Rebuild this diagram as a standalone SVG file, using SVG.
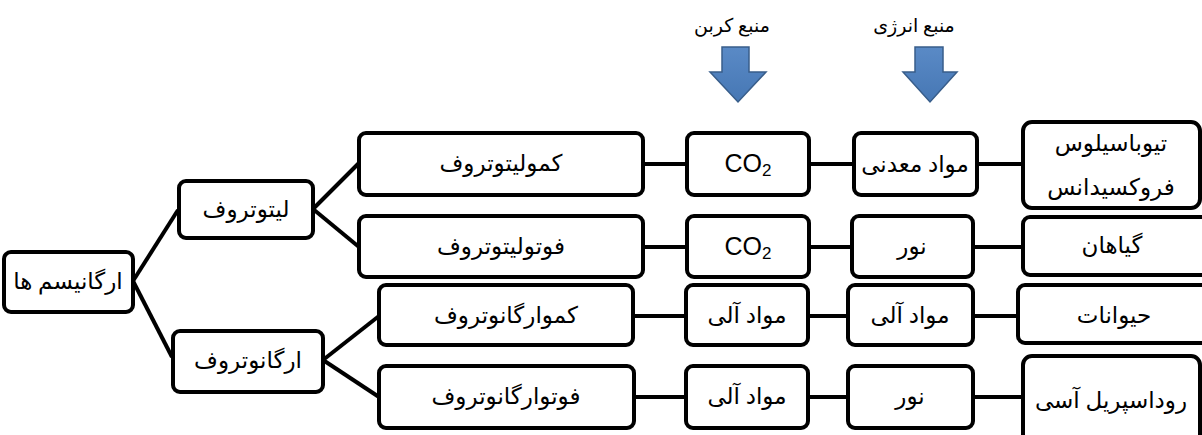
<svg xmlns="http://www.w3.org/2000/svg" width="1202" height="435" viewBox="0 0 1202 435">
<style>
.box{fill:#fff;stroke:#000;stroke-width:4}
.con line{stroke:#000;stroke-width:4}
.t{font-family:"Liberation Serif","DejaVu Sans",serif;font-size:23px;fill:#000;text-anchor:middle;dominant-baseline:central}
.co{font-family:"Liberation Sans","Open Sans",sans-serif;font-size:25px;fill:#000;text-anchor:middle;dominant-baseline:central}
.lbl{font-family:"Liberation Serif","DejaVu Sans",serif;font-size:19px;fill:#000;text-anchor:middle}
.arr{fill:#4f81bd;stroke:#385d8a;stroke-width:1.5}
</style>
<defs>
<linearGradient id="ag" x1="0" y1="0" x2="0" y2="1">
<stop offset="0" stop-color="#5a8ac6"/><stop offset="1" stop-color="#4677b4"/>
</linearGradient>
</defs>
<rect width="1202" height="435" fill="#fff"/>
<g id="connectors" class="con">
<line x1="133" y1="281" x2="178" y2="210"/>
<line x1="133" y1="281" x2="172" y2="357"/>
<line x1="313" y1="209" x2="359" y2="163"/>
<line x1="313" y1="209" x2="359" y2="247"/>
<line x1="323" y1="360" x2="379" y2="316"/>
<line x1="323" y1="360" x2="379" y2="397"/>
<line x1="643" y1="164" x2="687" y2="164"/>
<line x1="643" y1="247" x2="687" y2="247"/>
<line x1="633" y1="316" x2="686" y2="316"/>
<line x1="633" y1="397" x2="686" y2="397"/>
<line x1="809" y1="164" x2="854" y2="164"/>
<line x1="809" y1="247" x2="852" y2="247"/>
<line x1="808" y1="316" x2="848" y2="316"/>
<line x1="808" y1="397" x2="848" y2="397"/>
<line x1="977" y1="164" x2="1023" y2="164"/>
<line x1="973" y1="247" x2="1023" y2="247"/>
<line x1="973" y1="316" x2="1018" y2="316"/>
<line x1="973" y1="397" x2="1023" y2="397"/>
</g>
<g id="n-organisms"><rect class="box" x="4" y="252" width="129" height="60" rx="7"/><text class="t" x="68" y="281">ارگانیسم ها</text></g>
<g id="n-litho"><rect class="box" x="179" y="181" width="134" height="57" rx="7"/><text class="t" x="246" y="209">لیتوتروف</text></g>
<g id="n-organo"><rect class="box" x="173" y="331" width="150" height="61" rx="7"/><text class="t" x="248" y="360">ارگانوتروف</text></g>
<g id="n-chemolitho"><rect class="box" x="359" y="133" width="284" height="62" rx="7"/><text class="t" x="501" y="163">کمولیتوتروف</text></g>
<g id="n-photolitho"><rect class="box" x="359" y="216" width="284" height="61" rx="7"/><text class="t" x="501" y="246">فوتولیتوتروف</text></g>
<g id="n-chemoorgano"><rect class="box" x="379" y="285" width="254" height="60" rx="7"/><text class="t" x="506" y="315">کموارگانوتروف</text></g>
<g id="n-photoorgano"><rect class="box" x="379" y="366" width="255" height="62" rx="7"/><text class="t" x="506" y="396">فوتوارگانوتروف</text></g>
<g id="n-co2a"><rect class="box" x="687" y="133" width="122" height="62" rx="7"/><text class="co" x="748" y="163">CO<tspan font-size="17" dy="7">2</tspan></text></g>
<g id="n-co2b"><rect class="box" x="687" y="216" width="122" height="61" rx="7"/><text class="co" x="748" y="246">CO<tspan font-size="17" dy="7">2</tspan></text></g>
<g id="n-organic1"><rect class="box" x="686" y="285" width="122" height="60" rx="7"/><text class="t" x="747" y="315">مواد آلی</text></g>
<g id="n-organic2"><rect class="box" x="686" y="366" width="122" height="62" rx="7"/><text class="t" x="747" y="396">مواد آلی</text></g>
<g id="n-mineral"><rect class="box" x="854" y="133" width="123" height="62" rx="7"/><text class="t" x="915" y="164">مواد معدنی</text></g>
<g id="n-light1"><rect class="box" x="852" y="216" width="121" height="61" rx="7"/><text class="t" x="912" y="246">نور</text></g>
<g id="n-organic3"><rect class="box" x="848" y="285" width="125" height="60" rx="7"/><text class="t" x="910" y="315">مواد آلی</text></g>
<g id="n-light2"><rect class="box" x="848" y="366" width="125" height="62" rx="7"/><text class="t" x="910" y="396">نور</text></g>
<g id="n-thio"><rect class="box" x="1023" y="122" width="177" height="86" rx="9"/><text class="t" x="1111" y="143">تیوباسیلوس</text><text class="t" x="1111" y="187">فروکسیدانس</text></g>
<g id="n-plants"><rect class="box" x="1023" y="217" width="185" height="58" rx="7"/><text class="t" x="1112" y="245">گیاهان</text></g>
<g id="n-animals"><rect class="box" x="1018" y="285" width="190" height="58" rx="7"/><text class="t" x="1114" y="315">حیوانات</text></g>
<g id="n-rhodo"><rect class="box" x="1023" y="356" width="177" height="95" rx="9"/><text class="t" x="1111" y="400">روداسپریل آسی</text></g>
<g id="carbon-source">
<text class="lbl" x="732" y="32">منبع کربن</text>
<path class="arr" fill="url(#ag)" style="fill:url(#ag)" d="M722,47 H749 V72 H766 L738,102 L710,72 H722 Z"/>
</g>
<g id="energy-source">
<text class="lbl" x="914" y="32">منبع انرژی</text>
<path class="arr" style="fill:url(#ag)" d="M915,47 H943 V72 H957 L930,102 L903,72 H915 Z"/>
</g>
</svg>
